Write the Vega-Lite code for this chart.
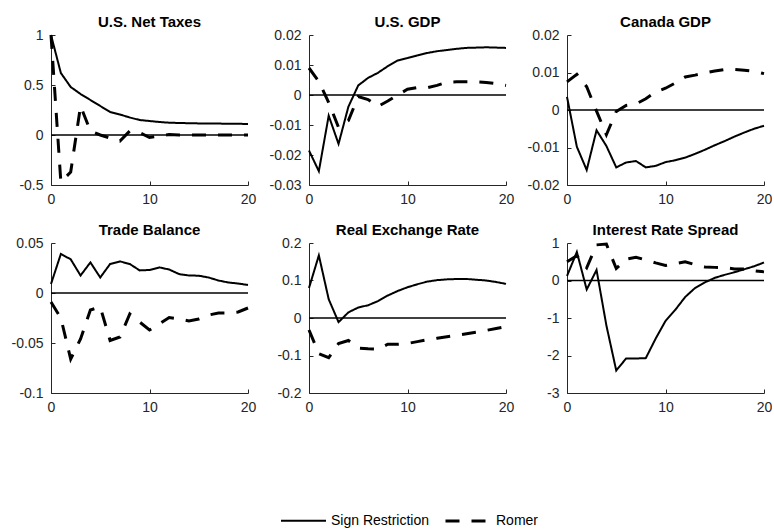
{
  "$schema": "https://vega.github.io/schema/vega-lite/v6.json",
  "padding": {"left": 11, "top": 15, "right": 0, "bottom": 0},
  "datasets": {
    "taxes": [
      {"t":0,"Sign Restriction":1.0,"Romer":1.0},
      {"t":1,"Sign Restriction":0.62,"Romer":-0.47},
      {"t":2,"Sign Restriction":0.48,"Romer":-0.37},
      {"t":3,"Sign Restriction":0.41,"Romer":0.29},
      {"t":4,"Sign Restriction":0.35,"Romer":0.04},
      {"t":5,"Sign Restriction":0.29,"Romer":0.0},
      {"t":6,"Sign Restriction":0.23,"Romer":-0.03},
      {"t":7,"Sign Restriction":0.205,"Romer":-0.06},
      {"t":8,"Sign Restriction":0.175,"Romer":0.04},
      {"t":9,"Sign Restriction":0.15,"Romer":0.025},
      {"t":10,"Sign Restriction":0.14,"Romer":-0.025},
      {"t":11,"Sign Restriction":0.13,"Romer":-0.01},
      {"t":12,"Sign Restriction":0.123,"Romer":0.005},
      {"t":13,"Sign Restriction":0.12,"Romer":0.0},
      {"t":14,"Sign Restriction":0.118,"Romer":0.0},
      {"t":15,"Sign Restriction":0.116,"Romer":0.0},
      {"t":16,"Sign Restriction":0.115,"Romer":0.0},
      {"t":17,"Sign Restriction":0.114,"Romer":0.0},
      {"t":18,"Sign Restriction":0.113,"Romer":0.0},
      {"t":19,"Sign Restriction":0.112,"Romer":0.0},
      {"t":20,"Sign Restriction":0.11,"Romer":0.0}
    ],
    "usgdp": [
      {"t":0,"Sign Restriction":-0.0185,"Romer":0.009},
      {"t":1,"Sign Restriction":-0.0254,"Romer":0.0045},
      {"t":2,"Sign Restriction":-0.0069,"Romer":-0.0025},
      {"t":3,"Sign Restriction":-0.0163,"Romer":-0.0108},
      {"t":4,"Sign Restriction":-0.0039,"Romer":-0.0085},
      {"t":5,"Sign Restriction":0.0032,"Romer":-0.0005},
      {"t":6,"Sign Restriction":0.0057,"Romer":-0.0015},
      {"t":7,"Sign Restriction":0.0074,"Romer":-0.0038},
      {"t":8,"Sign Restriction":0.0096,"Romer":-0.002},
      {"t":9,"Sign Restriction":0.0115,"Romer":0.0},
      {"t":10,"Sign Restriction":0.0123,"Romer":0.0019},
      {"t":11,"Sign Restriction":0.0132,"Romer":0.0025},
      {"t":12,"Sign Restriction":0.014,"Romer":0.0024},
      {"t":13,"Sign Restriction":0.0146,"Romer":0.0032},
      {"t":14,"Sign Restriction":0.015,"Romer":0.0043},
      {"t":15,"Sign Restriction":0.0154,"Romer":0.0044},
      {"t":16,"Sign Restriction":0.0157,"Romer":0.0044},
      {"t":17,"Sign Restriction":0.0158,"Romer":0.0044},
      {"t":18,"Sign Restriction":0.0159,"Romer":0.0042},
      {"t":19,"Sign Restriction":0.0158,"Romer":0.0038},
      {"t":20,"Sign Restriction":0.0157,"Romer":0.0032}
    ],
    "cagdp": [
      {"t":0,"Sign Restriction":0.0035,"Romer":0.0075},
      {"t":1,"Sign Restriction":-0.0098,"Romer":0.0095},
      {"t":2,"Sign Restriction":-0.016,"Romer":0.0062},
      {"t":3,"Sign Restriction":-0.0054,"Romer":-0.0003},
      {"t":4,"Sign Restriction":-0.0096,"Romer":-0.0066},
      {"t":5,"Sign Restriction":-0.0153,"Romer":-0.0004},
      {"t":6,"Sign Restriction":-0.014,"Romer":0.0012},
      {"t":7,"Sign Restriction":-0.0136,"Romer":0.0016},
      {"t":8,"Sign Restriction":-0.0153,"Romer":0.003},
      {"t":9,"Sign Restriction":-0.0149,"Romer":0.0048},
      {"t":10,"Sign Restriction":-0.0139,"Romer":0.0058},
      {"t":11,"Sign Restriction":-0.0134,"Romer":0.0072},
      {"t":12,"Sign Restriction":-0.0127,"Romer":0.0088},
      {"t":13,"Sign Restriction":-0.0117,"Romer":0.0093},
      {"t":14,"Sign Restriction":-0.0106,"Romer":0.0099},
      {"t":15,"Sign Restriction":-0.0094,"Romer":0.0104},
      {"t":16,"Sign Restriction":-0.0083,"Romer":0.0108},
      {"t":17,"Sign Restriction":-0.0071,"Romer":0.0108},
      {"t":18,"Sign Restriction":-0.006,"Romer":0.0106},
      {"t":19,"Sign Restriction":-0.005,"Romer":0.0103},
      {"t":20,"Sign Restriction":-0.0042,"Romer":0.0097}
    ],
    "trade": [
      {"t":0,"Sign Restriction":0.009,"Romer":-0.009},
      {"t":1,"Sign Restriction":0.039,"Romer":-0.025},
      {"t":2,"Sign Restriction":0.0337,"Romer":-0.066},
      {"t":3,"Sign Restriction":0.0175,"Romer":-0.046},
      {"t":4,"Sign Restriction":0.0306,"Romer":-0.017},
      {"t":5,"Sign Restriction":0.0155,"Romer":-0.014},
      {"t":6,"Sign Restriction":0.029,"Romer":-0.0475},
      {"t":7,"Sign Restriction":0.0316,"Romer":-0.044},
      {"t":8,"Sign Restriction":0.029,"Romer":-0.021},
      {"t":9,"Sign Restriction":0.0226,"Romer":-0.029},
      {"t":10,"Sign Restriction":0.023,"Romer":-0.037},
      {"t":11,"Sign Restriction":0.0256,"Romer":-0.031},
      {"t":12,"Sign Restriction":0.0235,"Romer":-0.0245},
      {"t":13,"Sign Restriction":0.0189,"Romer":-0.026},
      {"t":14,"Sign Restriction":0.0175,"Romer":-0.028},
      {"t":15,"Sign Restriction":0.0173,"Romer":-0.026},
      {"t":16,"Sign Restriction":0.0155,"Romer":-0.022},
      {"t":17,"Sign Restriction":0.0125,"Romer":-0.02},
      {"t":18,"Sign Restriction":0.0105,"Romer":-0.02},
      {"t":19,"Sign Restriction":0.0095,"Romer":-0.019},
      {"t":20,"Sign Restriction":0.008,"Romer":-0.015}
    ],
    "rer": [
      {"t":0,"Sign Restriction":0.08,"Romer":-0.032},
      {"t":1,"Sign Restriction":0.167,"Romer":-0.095},
      {"t":2,"Sign Restriction":0.05,"Romer":-0.106},
      {"t":3,"Sign Restriction":-0.011,"Romer":-0.068},
      {"t":4,"Sign Restriction":0.015,"Romer":-0.06},
      {"t":5,"Sign Restriction":0.028,"Romer":-0.08},
      {"t":6,"Sign Restriction":0.034,"Romer":-0.082},
      {"t":7,"Sign Restriction":0.045,"Romer":-0.083},
      {"t":8,"Sign Restriction":0.06,"Romer":-0.07},
      {"t":9,"Sign Restriction":0.072,"Romer":-0.07},
      {"t":10,"Sign Restriction":0.082,"Romer":-0.068},
      {"t":11,"Sign Restriction":0.09,"Romer":-0.063},
      {"t":12,"Sign Restriction":0.097,"Romer":-0.058},
      {"t":13,"Sign Restriction":0.101,"Romer":-0.054},
      {"t":14,"Sign Restriction":0.103,"Romer":-0.05},
      {"t":15,"Sign Restriction":0.104,"Romer":-0.046},
      {"t":16,"Sign Restriction":0.104,"Romer":-0.042},
      {"t":17,"Sign Restriction":0.102,"Romer":-0.038},
      {"t":18,"Sign Restriction":0.1,"Romer":-0.033},
      {"t":19,"Sign Restriction":0.096,"Romer":-0.028},
      {"t":20,"Sign Restriction":0.091,"Romer":-0.023}
    ],
    "spread": [
      {"t":0,"Sign Restriction":0.12,"Romer":0.5},
      {"t":1,"Sign Restriction":0.76,"Romer":0.66},
      {"t":2,"Sign Restriction":-0.24,"Romer":0.34},
      {"t":3,"Sign Restriction":0.28,"Romer":0.95},
      {"t":4,"Sign Restriction":-1.2,"Romer":0.97},
      {"t":5,"Sign Restriction":-2.4,"Romer":0.32},
      {"t":6,"Sign Restriction":-2.08,"Romer":0.57},
      {"t":7,"Sign Restriction":-2.08,"Romer":0.62},
      {"t":8,"Sign Restriction":-2.07,"Romer":0.55},
      {"t":9,"Sign Restriction":-1.55,"Romer":0.47},
      {"t":10,"Sign Restriction":-1.08,"Romer":0.4},
      {"t":11,"Sign Restriction":-0.78,"Romer":0.45},
      {"t":12,"Sign Restriction":-0.44,"Romer":0.5},
      {"t":13,"Sign Restriction":-0.2,"Romer":0.42},
      {"t":14,"Sign Restriction":-0.05,"Romer":0.36},
      {"t":15,"Sign Restriction":0.07,"Romer":0.35},
      {"t":16,"Sign Restriction":0.15,"Romer":0.34},
      {"t":17,"Sign Restriction":0.22,"Romer":0.31},
      {"t":18,"Sign Restriction":0.3,"Romer":0.31},
      {"t":19,"Sign Restriction":0.38,"Romer":0.26},
      {"t":20,"Sign Restriction":0.48,"Romer":0.23}
    ],
    "zero": [{"level": 0}]
  },
  "columns": 3,
  "spacing": {"row": 58, "column": 61},
  "bounds": "flush",
  "concat": [
    {
      "width": 197, "height": 150,
      "title": "U.S. Net Taxes",
      "encoding": {
        "x": {"field": "t", "type": "quantitative", "scale": {"domain": [0, 20]}, "axis": {"values": [0, 10, 20]}},
        "y": {"field": "value", "type": "quantitative", "scale": {"domain": [-0.5, 1]}, "axis": {"values": [-0.5, 0, 0.5, 1], "labelExpr": "'' + datum.value"}}
      },
      "layer": [
        {"data": {"name": "taxes"},
         "transform": [{"fold": ["Sign Restriction", "Romer"], "as": ["series", "value"]}],
         "mark": {"type": "line", "color": "black"},
         "encoding": {
           "strokeDash": {"field": "series", "type": "nominal", "scale": {"domain": ["Sign Restriction", "Romer"], "range": [[1, 0], [14, 12]]}},
           "strokeWidth": {"field": "series", "type": "nominal", "scale": {"domain": ["Sign Restriction", "Romer"], "range": [2, 3]}}
         }},
        {"data": {"name": "zero"}, "mark": {"type": "rule", "color": "black", "strokeWidth": 1.5}, "encoding": {"y": {"field": "level", "type": "quantitative"}, "x": null}}
      ]
    },
    {
      "width": 197, "height": 150,
      "title": "U.S. GDP",
      "encoding": {
        "x": {"field": "t", "type": "quantitative", "scale": {"domain": [0, 20]}, "axis": {"values": [0, 10, 20]}},
        "y": {"field": "value", "type": "quantitative", "scale": {"domain": [-0.03, 0.02]}, "axis": {"values": [-0.03, -0.02, -0.01, 0, 0.01, 0.02], "labelExpr": "'' + datum.value"}}
      },
      "layer": [
        {"data": {"name": "usgdp"},
         "transform": [{"fold": ["Sign Restriction", "Romer"], "as": ["series", "value"]}],
         "mark": {"type": "line", "color": "black"},
         "encoding": {
           "strokeDash": {"field": "series", "type": "nominal", "scale": {"domain": ["Sign Restriction", "Romer"], "range": [[1, 0], [14, 12]]}},
           "strokeWidth": {"field": "series", "type": "nominal", "scale": {"domain": ["Sign Restriction", "Romer"], "range": [2, 3]}}
         }},
        {"data": {"name": "zero"}, "mark": {"type": "rule", "color": "black", "strokeWidth": 1.5}, "encoding": {"y": {"field": "level", "type": "quantitative"}, "x": null}}
      ]
    },
    {
      "width": 197, "height": 150,
      "title": "Canada GDP",
      "encoding": {
        "x": {"field": "t", "type": "quantitative", "scale": {"domain": [0, 20]}, "axis": {"values": [0, 10, 20]}},
        "y": {"field": "value", "type": "quantitative", "scale": {"domain": [-0.02, 0.02]}, "axis": {"values": [-0.02, -0.01, 0, 0.01, 0.02], "labelExpr": "'' + datum.value"}}
      },
      "layer": [
        {"data": {"name": "cagdp"},
         "transform": [{"fold": ["Sign Restriction", "Romer"], "as": ["series", "value"]}],
         "mark": {"type": "line", "color": "black"},
         "encoding": {
           "strokeDash": {"field": "series", "type": "nominal", "scale": {"domain": ["Sign Restriction", "Romer"], "range": [[1, 0], [14, 12]]}},
           "strokeWidth": {"field": "series", "type": "nominal", "scale": {"domain": ["Sign Restriction", "Romer"], "range": [2, 3]}}
         }},
        {"data": {"name": "zero"}, "mark": {"type": "rule", "color": "black", "strokeWidth": 1.5}, "encoding": {"y": {"field": "level", "type": "quantitative"}, "x": null}}
      ]
    },
    {
      "width": 197, "height": 150,
      "title": "Trade Balance",
      "encoding": {
        "x": {"field": "t", "type": "quantitative", "scale": {"domain": [0, 20]}, "axis": {"values": [0, 10, 20]}},
        "y": {"field": "value", "type": "quantitative", "scale": {"domain": [-0.1, 0.05]}, "axis": {"values": [-0.1, -0.05, 0, 0.05], "labelExpr": "'' + datum.value"}}
      },
      "layer": [
        {"data": {"name": "trade"},
         "transform": [{"fold": ["Sign Restriction", "Romer"], "as": ["series", "value"]}],
         "mark": {"type": "line", "color": "black"},
         "encoding": {
           "strokeDash": {"field": "series", "type": "nominal", "scale": {"domain": ["Sign Restriction", "Romer"], "range": [[1, 0], [14, 12]]}},
           "strokeWidth": {"field": "series", "type": "nominal", "scale": {"domain": ["Sign Restriction", "Romer"], "range": [2, 3]}}
         }},
        {"data": {"name": "zero"}, "mark": {"type": "rule", "color": "black", "strokeWidth": 1.5}, "encoding": {"y": {"field": "level", "type": "quantitative"}, "x": null}}
      ]
    },
    {
      "width": 197, "height": 150,
      "title": "Real Exchange Rate",
      "encoding": {
        "x": {"field": "t", "type": "quantitative", "scale": {"domain": [0, 20]}, "axis": {"values": [0, 10, 20]}},
        "y": {"field": "value", "type": "quantitative", "scale": {"domain": [-0.2, 0.2]}, "axis": {"values": [-0.2, -0.1, 0, 0.1, 0.2], "labelExpr": "'' + datum.value"}}
      },
      "layer": [
        {"data": {"name": "rer"},
         "transform": [{"fold": ["Sign Restriction", "Romer"], "as": ["series", "value"]}],
         "mark": {"type": "line", "color": "black"},
         "encoding": {
           "strokeDash": {"field": "series", "type": "nominal", "scale": {"domain": ["Sign Restriction", "Romer"], "range": [[1, 0], [14, 12]]}},
           "strokeWidth": {"field": "series", "type": "nominal", "scale": {"domain": ["Sign Restriction", "Romer"], "range": [2, 3]}}
         }},
        {"data": {"name": "zero"}, "mark": {"type": "rule", "color": "black", "strokeWidth": 1.5}, "encoding": {"y": {"field": "level", "type": "quantitative"}, "x": null}}
      ]
    },
    {
      "width": 197, "height": 150,
      "title": "Interest Rate Spread",
      "encoding": {
        "x": {"field": "t", "type": "quantitative", "scale": {"domain": [0, 20]}, "axis": {"values": [0, 10, 20]}},
        "y": {"field": "value", "type": "quantitative", "scale": {"domain": [-3, 1]}, "axis": {"values": [-3, -2, -1, 0, 1], "labelExpr": "'' + datum.value"}}
      },
      "layer": [
        {"data": {"name": "spread"},
         "transform": [{"fold": ["Sign Restriction", "Romer"], "as": ["series", "value"]}],
         "mark": {"type": "line", "color": "black"},
         "encoding": {
           "strokeDash": {"field": "series", "type": "nominal", "scale": {"domain": ["Sign Restriction", "Romer"], "range": [[1, 0], [14, 12]]}},
           "strokeWidth": {"field": "series", "type": "nominal", "scale": {"domain": ["Sign Restriction", "Romer"], "range": [2, 3]}}
         }},
        {"data": {"name": "zero"}, "mark": {"type": "rule", "color": "black", "strokeWidth": 1.5}, "encoding": {"y": {"field": "level", "type": "quantitative"}, "x": null}}
      ]
    }
  ],
  "config": {
    "font": "Liberation Sans",
    "view": {"stroke": null},
    "axis": {
      "grid": false, "title": null,
      "domainColor": "#262626", "tickColor": "#262626", "labelColor": "#262626",
      "labelFont": "Liberation Sans", "labelFontSize": 14,
      "tickSize": -4, "domainWidth": 1, "tickWidth": 1,
      "labelFlush": false, "labelOverlap": false
    },
    "axisX": {"labelPadding": 11},
    "axisY": {"labelPadding": 12},
    "title": {"font": "Liberation Sans", "fontSize": 15, "fontWeight": "bold", "color": "black", "offset": -2, "anchor": "middle", "frame": "group"},
    "legend": {
      "orient": "none", "direction": "horizontal", "legendX": 229, "legendY": 462,
      "title": null, "symbolType": "stroke", "symbolSize": 2025, "symbolStrokeColor": "black",
      "labelFont": "Liberation Sans", "labelFontSize": 14, "labelColor": "black",
      "labelOffset": 4, "columnPadding": 9
    }
  }
}
